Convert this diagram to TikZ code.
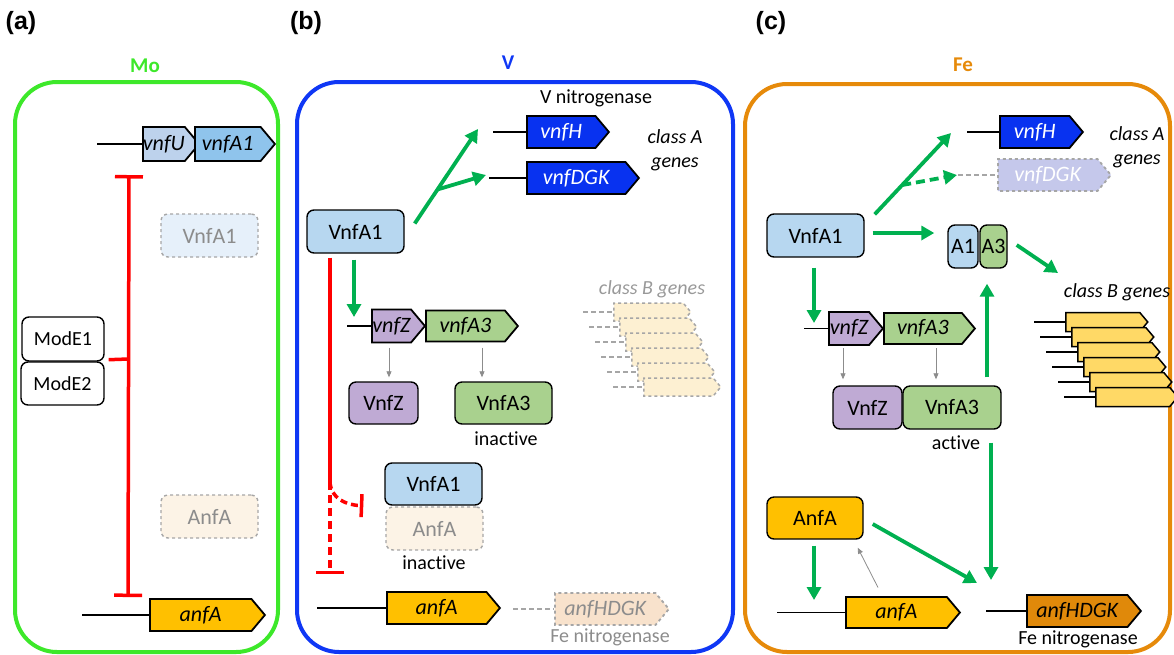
\documentclass[tikz,border=0pt]{standalone}
\usepackage{fontspec}
\setmainfont{Carlito}[Ligatures=NoCommon]
\newfontfamily\labelfont{Liberation Sans}
\usetikzlibrary{shapes.symbols,calc,arrows.meta}
\definecolor{mogreen}{RGB}{61,232,42}
\definecolor{vblue}{RGB}{15,55,245}
\definecolor{feorange}{RGB}{230,138,10}
\definecolor{actgreen}{RGB}{0,176,80}
\definecolor{protblue}{RGB}{183,215,240}
\definecolor{vnfu}{RGB}{189,210,236}
\definecolor{vnfaone}{RGB}{143,196,236}
\definecolor{vnfhcol}{RGB}{8,50,240}
\definecolor{zcol}{RGB}{191,170,212}
\definecolor{athree}{RGB}{169,209,142}
\definecolor{anfcol}{RGB}{255,192,0}
\definecolor{classb}{RGB}{255,217,102}
\definecolor{hdgkcol}{RGB}{224,137,10}
\definecolor{lavender}{RGB}{197,200,235}
\definecolor{fadeblue}{RGB}{230,240,250}
\definecolor{fadeorange}{RGB}{252,243,230}
\definecolor{fadepeach}{RGB}{248,226,204}
\definecolor{fadeyellow}{RGB}{253,240,210}

\begin{document}
\begin{tikzpicture}[x=1pt,y=-1pt,
  sz/.style 2 args={minimum width=#1,minimum height=#2},
  prot/.style={draw,line width=1.4pt,rounded corners=7pt,inner sep=0pt,
    font=\fontsize{22}{26}\selectfont},
  faded/.style={draw=black!35,dashed,text=black!45},
  gene/.style={signal,signal to=east,signal pointer angle=100,draw,anchor=west,
    line width=1.8pt,inner sep=0pt,font=\fontsize{22}{26}\selectfont\itshape},
  promo/.style={line width=1.3pt},
  act/.style={draw=actgreen,line width=3.8pt,-{Triangle[length=13pt,width=14pt]}},
  trans/.style={draw=black!45,line width=0.8pt,-{Triangle[length=6pt,width=5pt]}},
  inh/.style={draw=red,line width=3.5pt},
  panel/.style={line width=4pt,rounded corners=42pt},
  plabel/.style={font=\labelfont\bfseries\fontsize{25}{30}\selectfont},
  metal/.style={font=\bfseries\fontsize{21}{25}\selectfont},
  note/.style={font=\fontsize{20}{24}\selectfont},
  noteit/.style={font=\fontsize{20}{24}\selectfont\itshape,align=center}
]
\useasboundingbox (0,0) rectangle (1174,654);

% (a) Mo
\node[plabel] (la) at (21,23) {(a)};
\node[metal,text=mogreen] (mo) at (145,66) {Mo};
\draw[panel,mogreen] (15,82) rectangle (278,652);
\node[gene,fill=vnfu,sz={51}{34}] (agU) at (142,144) {vnfU};
\node[gene,fill=vnfaone,sz={80}{34}] (agA1) at (194,144) {vnfA1};
\node[prot,font=\fontsize{20}{24}\selectfont,sz={82}{44}] (aE1) at (63,339) {ModE1};
\node[prot,font=\fontsize{20}{24}\selectfont,sz={83}{43}] (aE2) at (62.5,383.5) {ModE2};
\node[prot,faded,fill=fadeblue,sz={97}{43}] (aA1) at (209.5,235.5) {VnfA1};
\node[prot,faded,fill=fadeorange,sz={97}{43}] (aAnf) at (209.5,516.5) {AnfA};
\node[gene,fill=anfcol,sz={115}{32}] (agAnf) at (149,615) {anfA};
\coordinate (apU) at (97,144);
\coordinate (apAnf) at (82,615);
\coordinate (aT1) at (129,175);
\coordinate (aT2) at (128,597);
\draw[promo] (apU) -- (agU.west);
\draw[promo] (apAnf) -- (agAnf.west);
\draw[inh,{Bar[width=28pt]}-{Bar[width=28pt]}] (aT1) -- (aT2);
\draw[inh] ($(aE1.south east)+(4,-2)$) -- ($(aT1)!0.436!(aT2)$);

% (b) V
\node[plabel] (lb) at (306,23) {(b)};
\node[metal,text=vblue] (v) at (508,63) {V};
\draw[panel,vblue] (297,82) rectangle (733,652);
\node[note] (bVn) at (596,98) {V nitrogenase};
\node[gene,fill=vnfhcol,text=white,sz={82}{32}] (bgH) at (526,132) {vnfH};
\node[gene,fill=vnfhcol,text=white,sz={112}{32}] (bgD) at (526,178) {vnfDGK};
\node[noteit] (bcA) at (675,150) {class A\\genes};
\node[prot,fill=protblue,sz={97}{43}] (bA1) at (355.5,231.5) {VnfA1};
\node[gene,fill=zcol,sz={53}{33}] (bgZ) at (371,326) {vnfZ};
\node[gene,fill=athree,sz={92}{31}] (bgA3) at (425,326) {vnfA3};
\node[prot,fill=zcol,sz={69}{42}] (bZ) at (383.5,403) {VnfZ};
\node[prot,fill=athree,sz={97}{42}] (bA3) at (503.5,403) {VnfA3};
\node[note] (bIn1) at (506,439) {inactive};
\node[prot,fill=protblue,sz={97}{42}] (bA1b) at (433.5,484) {VnfA1};
\node[prot,faded,fill=fadeorange,sz={97}{43}] (bAnf) at (434.5,528.5) {AnfA};
\node[note] (bIn2) at (434,563) {inactive};
\node[gene,fill=anfcol,sz={113}{32}] (bgAnf) at (386,608) {anfA};
\node[gene,faded,fill=fadepeach,sz={114}{32}] (bgHD) at (554,609) {anfHDGK};
\node[note,text=black!45] (bFe) at (610,637) {Fe nitrogenase};
\node[noteit,text=black!40] (bcB) at (652,289) {class B genes};
\foreach \i in {0,...,5}{
  \coordinate (bpB\i) at (583+6*\i,312+15*\i);
  \node[gene,faded,line width=1.5pt,fill=fadeyellow,sz={77}{18}] (bB\i) at (613+6*\i,312+15*\i) {};
  \draw[promo,draw=black!35,dash pattern=on 5pt off 3pt] (bpB\i) -- (bB\i.west);
}
\coordinate (bpH) at (493,132);
\coordinate (bpD) at (489,178);
\coordinate (bpZ) at (347,326);
\coordinate (bpAnf) at (317,608);
\coordinate (bpHD) at (513,609);
\draw[promo] (bpH) -- (bgH.west);
\draw[promo] (bpD) -- (bgD.west);
\draw[promo] (bpZ) -- (bgZ.west);
\draw[promo] (bpAnf) -- (bgAnf.west);
\draw[promo,draw=black!35,dash pattern=on 5pt off 3pt] (bpHD) -- (bgHD.west);
\coordinate (bS) at ($(bA1.east)+(10,-8)$);
\coordinate (bEnd1) at (478,129);
\coordinate (bEnd2) at (486,175);
\draw[act] (bS) -- (bEnd1);
\draw[act] ($(bS)!0.36!(bEnd1)$) -- (bEnd2);
\draw[act] ($(bA1.south)+(-1.5,6)$) -- ($(bgZ.west)+(-17,-9)$);
\draw[trans] ($(bgZ.west)+(18,21.5)$) -- ($(bZ.north)+(5.5,-4)$);
\draw[trans] ($(bgA3.west)+(57,21.5)$) -- ($(bA3.north)+(-21.5,-4)$);
\coordinate (bSplit) at (330,482);
\coordinate (bT) at (330,574);
\draw[inh] ($(bA1.south)+(-25.5,4)$) -- (bSplit);
\draw[inh,dash pattern=on 8pt off 5pt,-{Bar[width=28pt]}] (bSplit) -- (bT);
\draw[inh,dash pattern=on 7pt off 4pt,-{Bar[width=23pt]}] (bSplit)
  .. controls (331,498) and (345,505) .. ($(bA1b.south west)+(-21,0)$);

% (c) Fe
\node[plabel] (lc) at (771,23) {(c)};
\node[metal,text=feorange] (fe) at (963,65) {Fe};
\draw[panel,feorange] (745,84) rectangle (1170,652);
\node[gene,fill=vnfhcol,text=white,sz={83}{32}] (cgH) at (999,132) {vnfH};
\node[gene,faded,fill=lavender,text=white,sz={113}{32}] (cgD) at (997,175) {vnfDGK};
\node[noteit] (ccA) at (1137,147.5) {class A\\genes};
\node[prot,fill=protblue,sz={97}{43}] (cA1) at (815.5,235.5) {VnfA1};
\node[prot,fill=protblue,sz={30}{43}] (cM1) at (963,246.5) {A1};
\node[prot,fill=athree,sz={27}{43}] (cM3) at (993.5,246.5) {A3};
\node[noteit] (ccB) at (1117,292) {class B genes};
\foreach \i in {0,...,5}{
  \coordinate (cpB\i) at (1034+6*\i,322+15*\i);
  \node[gene,line width=1.5pt,fill=classb,sz={82}{19}] (cB\i) at (1065+6*\i,322+15*\i) {};
  \draw[promo] (cpB\i) -- (cB\i.west);
}
\node[gene,fill=zcol,sz={54}{33}] (cgZ) at (828,328.5) {vnfZ};
\node[gene,fill=athree,sz={91}{31}] (cgA3) at (883,328.5) {vnfA3};
\node[prot,fill=zcol,sz={69}{43}] (cZ) at (867.5,407.5) {VnfZ};
\node[prot,fill=athree,sz={98}{43}] (cA3) at (952,407.5) {VnfA3};
\node[note] (cAct) at (956,443) {active};
\node[prot,fill=anfcol,sz={96}{42}] (cAnf) at (815,518) {AnfA};
\node[gene,fill=anfcol,sz={114}{31}] (cgAnf) at (845,612.5) {anfA};
\node[gene,fill=hdgkcol,sz={114}{32}] (cgHD) at (1026,611) {anfHDGK};
\node[note] (cFe) at (1078,639) {Fe nitrogenase};
\coordinate (cpH) at (967,132);
\coordinate (cpD) at (958,175);
\coordinate (cpZ) at (804,328.5);
\coordinate (cpAnf) at (777,612.5);
\coordinate (cpHD) at (986,611);
\draw[promo] (cpH) -- (cgH.west);
\draw[promo,draw=black!35,dash pattern=on 5pt off 3pt] (cpD) -- (cgD.west);
\draw[promo] (cpZ) -- (cgZ.west);
\draw[promo] (cpAnf) -- (cgAnf.west);
\draw[promo] (cpHD) -- (cgHD.west);
\coordinate (cS) at ($(cA1.north east)+(10,1)$);
\coordinate (cEnd1) at (951,133);
\coordinate (cEnd2) at (957,175);
\coordinate (cEnd3) at (1058,273);
\draw[act] (cS) -- (cEnd1);
\draw[act,dash pattern=on 9pt off 5pt] ($(cS)!0.36!(cEnd1)$) -- (cEnd2);
\draw[act] ($(cA1.east)+(8,-2.5)$) -- ($(cM1.west)+(-13,-13.5)$);
\draw[act] ($(cM3.east)+(9,-1.5)$) -- (cEnd3);
\draw[act] ($(cA1.south)+(-1.5,10)$) -- ($(cgZ.west)+(-14,-5.5)$);
\draw[trans] ($(cgZ.west)+(15,19.5)$) -- ($(cZ.north)+(-24.5,-6)$);
\draw[trans] ($(cgA3.west)+(53,19.5)$) -- ($(cA3.north)+(-16,-6)$);
\draw[act] ($(cA3.north)+(35,-8)$) -- ($(cM3.south)+(-6.5,15)$);
\draw[act] ($(cA3.south)+(39,13)$) -- ($(cgHD.west)+(-35,-31)$);
\draw[act] ($(cAnf.east)+(9,6)$) -- ($(cgHD.west)+(-49,-28)$);
\draw[act] ($(cAnf.south)+(-1,6)$) -- ($(cgAnf.west)+(-31,-12.5)$);
\draw[trans] ($(cgAnf.west)+(33,-25)$) -- ($(cAnf.south east)+(-6,8)$);
\end{tikzpicture}
\end{document}
